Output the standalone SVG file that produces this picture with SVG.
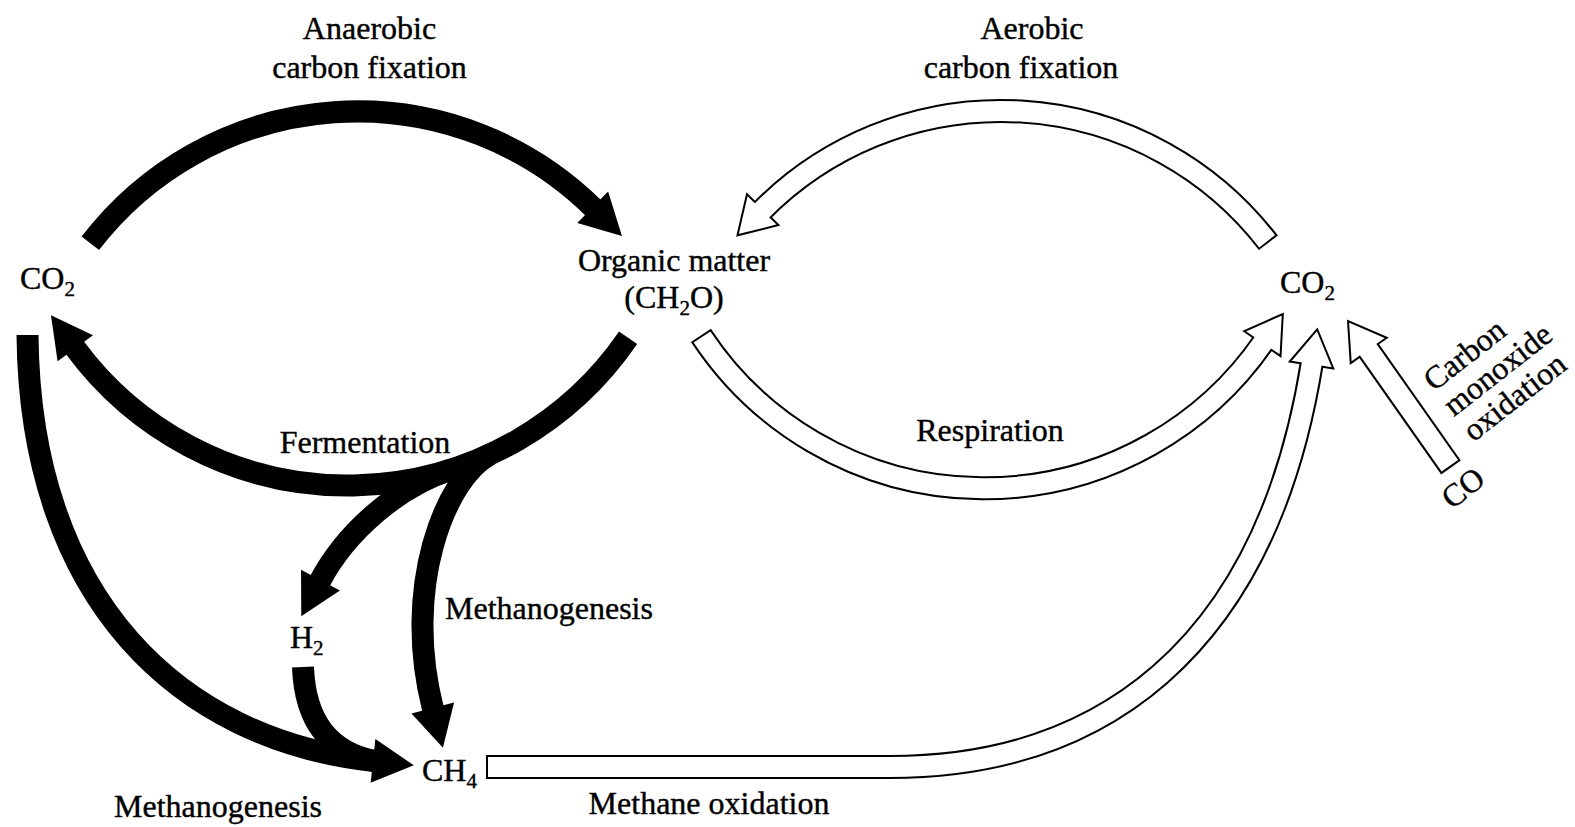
<svg xmlns="http://www.w3.org/2000/svg" width="1575" height="827" viewBox="0 0 1575 827">
<style>
.t{font-family:"Liberation Serif","Times New Roman",serif;font-size:32px;fill:#000;stroke:#000;stroke-width:0.4}
.s{font-size:21px}
.blk{fill:none;stroke:#000;stroke-width:22;stroke-linecap:butt}
.wo{fill:none;stroke:#000;stroke-width:24;stroke-linecap:butt}
.wi{fill:none;stroke:#fff;stroke-width:20;stroke-linecap:butt;stroke-dasharray:0 2 5000}
</style>
<defs>
<marker id="bh" markerUnits="userSpaceOnUse" markerWidth="60" markerHeight="60" viewBox="-5 -30 60 60" refX="0" refY="0" orient="auto" overflow="visible">
<polygon points="-1,-22 40,0 -1,22" fill="#000"/>
</marker>
<marker id="wh" markerUnits="userSpaceOnUse" markerWidth="60" markerHeight="60" viewBox="-5 -30 60 60" refX="0" refY="0" orient="auto" overflow="visible">
<polygon points="-3,-22 33,0 -3,22" fill="#fff" stroke="#000" stroke-width="2" stroke-linejoin="miter"/>
</marker>
</defs>
<rect width="1575" height="827" fill="#fff"/>

<g id="connectors">
<!-- anaerobic carbon fixation -->
<path class="blk" d="M 90.3 243.3 A 336.6 336.6 0 0 1 593.4 207.9" marker-end="url(#bh)"/>
<!-- fermentation -->
<path class="blk" d="M 628.1 337.8 A 339.5 339.5 0 0 1 74.7 347.5" marker-end="url(#bh)"/>
<!-- fermentation to H2 -->
<path class="blk" d="M 450 470 C 400 486, 347 530, 320 581" marker-end="url(#bh)"/>
<!-- fermentation to CH4 -->
<path class="blk" d="M 490 454.5 C 445 478, 402 588, 433 709" marker-end="url(#bh)"/>
<!-- CO2 to CH4 -->
<path class="blk" d="M 27.5 335 C 30 600, 180 740, 374 761" marker-end="url(#bh)"/>
<!-- H2 to CH4 -->
<path class="blk" d="M 303 667 C 305 722, 330 752, 374 761"/>

<!-- aerobic carbon fixation -->
<path class="wo" d="M 1268.4 242.8 A 337 337 0 0 0 760.6 211.8" marker-end="url(#wh)"/>
<path class="wi" d="M 1268.4 242.8 A 337 337 0 0 0 760.6 211.8"/>
<!-- respiration -->
<path class="wo" d="M 700.9 335.3 A 339.3 339.3 0 0 0 1264.1 341.2" marker-end="url(#wh)"/>
<path class="wi" d="M 700.9 335.3 A 339.3 339.3 0 0 0 1264.1 341.2"/>
<!-- methane oxidation -->
<path class="wo" d="M 486 767 H 890 C 1095 767, 1265 655, 1312 362" marker-end="url(#wh)"/>
<path class="wi" d="M 486 767 H 890 C 1095 767, 1265 655, 1312 362"/>
<!-- carbon monoxide oxidation -->
<path class="wo" d="M 1451 467.5 L 1367 348" marker-end="url(#wh)"/>
<path class="wi" d="M 1451 467.5 L 1367 348"/>
</g>

<g id="node-co2-left"><text class="t" x="20" y="289">CO<tspan class="s" dy="7">2</tspan></text></g>
<g id="node-organic-matter">
<text class="t" x="674" y="271" text-anchor="middle">Organic matter</text>
<text class="t" x="674" y="308" text-anchor="middle">(CH<tspan class="s" dy="7">2</tspan><tspan dy="-7">O)</tspan></text>
</g>
<g id="node-co2-right"><text class="t" x="1280" y="293">CO<tspan class="s" dy="7">2</tspan></text></g>
<g id="node-h2"><text class="t" x="290" y="648">H<tspan class="s" dy="7">2</tspan></text></g>
<g id="node-ch4"><text class="t" x="422" y="781">CH<tspan class="s" dy="7">4</tspan></text></g>
<g id="node-co"><text class="t" transform="translate(1452,510) rotate(-38)">CO</text></g>

<g id="labels">
<text class="t" x="369.5" y="39" text-anchor="middle">Anaerobic</text>
<text class="t" x="369.5" y="78" text-anchor="middle">carbon fixation</text>
<text class="t" x="1032" y="39" text-anchor="middle">Aerobic</text>
<text class="t" x="1021" y="78" text-anchor="middle">carbon fixation</text>
<text class="t" x="365" y="453" text-anchor="middle">Fermentation</text>
<text class="t" x="990" y="441" text-anchor="middle">Respiration</text>
<text class="t" x="445" y="619">Methanogenesis</text>
<text class="t" x="218" y="817" text-anchor="middle">Methanogenesis</text>
<text class="t" x="709" y="814" text-anchor="middle">Methane oxidation</text>
<text class="t" transform="translate(1434,392) rotate(-38)"><tspan x="0" y="0">Carbon</tspan><tspan x="0" y="32">monoxide</tspan><tspan x="0" y="64">oxidation</tspan></text>
</g>
</svg>
